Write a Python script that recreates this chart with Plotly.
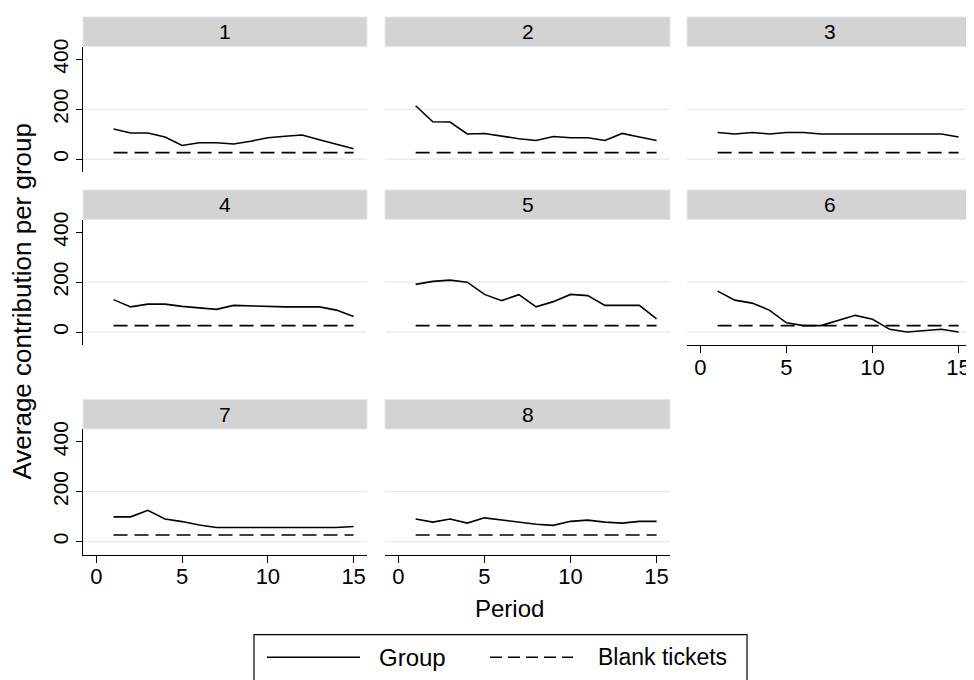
import plotly.graph_objects as go

# ---------------- data ----------------
periods = [1, 2, 3, 4, 5, 6, 7, 8, 9, 10, 11, 12, 13, 14, 15]
panel_labels = ["1", "2", "3", "4", "5", "6", "7", "8"]

group_1 = [121, 105, 105, 89, 55, 66, 66, 61, 72, 86, 92, 97, 78, 59, 42]
group_2 = [214, 150, 149, 101, 103, 92, 82, 75, 91, 86, 86, 75, 103, 89, 75]
group_3 = [107, 101, 107, 101, 107, 107, 101, 101, 101, 101, 101, 101, 101, 101, 89]
group_4 = [130, 101, 112, 112, 103, 97, 91, 107, 104, 103, 101, 101, 101, 88, 62]
group_5 = [191, 203, 208, 200, 151, 126, 150, 101, 122, 151, 146, 107, 107, 107, 53]
group_6 = [164, 128, 116, 88, 37, 26, 26, 47, 67, 51, 11, 0, 5, 11, 0]
group_7 = [99, 99, 125, 90, 80, 66, 56, 56, 56, 56, 56, 56, 56, 56, 60]
group_8 = [90, 78, 90, 74, 95, 86, 77, 69, 65, 81, 86, 78, 74, 81, 81]
groups = [group_1, group_2, group_3, group_4, group_5, group_6, group_7, group_8]

blank_tickets = [26, 26, 26, 26, 26, 26, 26, 26, 26, 26, 26, 26, 26, 26, 26]

x_ticks = [0, 5, 10, 15]
y_ticks = [0, 200, 400]
grid_values = [0, 200]

y_title = "Average contribution per group"
x_title = "Period"
legend_names = ["Group", "Blank tickets"]

# ---------------- layout geometry (page pixels) ----------------
PAGE_W, PAGE_H = 974, 680
OFF = 8  # default body margin of the html page
W, H = PAGE_W - OFF, PAGE_H - OFF
FONT = "Liberation Sans, Arial, sans-serif"


def fx(p):
    return (p - OFF) / W


def fy(p):
    return 1 - (p - OFF) / H


col_px = [(83, 367), (385, 670), (687, 972)]
row_plot_px = [(39, 166), (214, 341), (426, 553)]
row_strip_px = [(9, 39), (184, 214), (396, 426)]
x_axis_panels = {5, 6, 7}

fig = go.Figure()
layout = {}
shapes = []
annotations = []

for i, vals in enumerate(groups):
    r, c = divmod(i, 3)
    n = i + 1
    xa = "x" if n == 1 else f"x{n}"
    ya = "y" if n == 1 else f"y{n}"
    fig.add_trace(go.Scatter(x=periods, y=vals, mode="lines", xaxis=xa, yaxis=ya,
                             line=dict(color="black", width=1.6), showlegend=False,
                             name=legend_names[0]))
    fig.add_trace(go.Scatter(x=periods, y=blank_tickets, mode="lines", xaxis=xa, yaxis=ya,
                             line=dict(color="black", width=1.6, dash="14px,7px"),
                             showlegend=False, name=legend_names[1]))
    show_x = i in x_axis_panels
    show_y = c == 0
    x0, x1 = col_px[c]
    yt, yb = row_plot_px[r]
    layout["xaxis" if n == 1 else f"xaxis{n}"] = dict(
        domain=[fx(x0), fx(x1)], range=[-0.78, 15.78], anchor=ya,
        tickvals=x_ticks, showticklabels=show_x, ticks="outside" if show_x else "",
        ticklen=7, tickwidth=1, tickcolor="black", ticklabelstandoff=-5,
        showline=show_x, linecolor="black", linewidth=1.2,
        showgrid=False, zeroline=False,
        tickfont=dict(family=FONT, size=22, color="black"),
    )
    layout["yaxis" if n == 1 else f"yaxis{n}"] = dict(
        domain=[fy(yb), fy(yt)], range=[-52, 451], anchor=xa,
        tickvals=y_ticks, showticklabels=show_y, ticks="outside" if show_y else "",
        ticklen=6, tickwidth=1, tickcolor="black", tickangle=-90,
        showline=show_y, linecolor="black", linewidth=1.2,
        showgrid=False, zeroline=False,
        tickfont=dict(family=FONT, size=21, color="black"),
    )
    for g in grid_values:
        shapes.append(dict(type="line", xref=f"{xa} domain", x0=0, x1=1,
                           yref=ya, y0=g, y1=g, layer="below",
                           line=dict(color="#e8e8e8", width=1.2)))
    st, sb = row_strip_px[r]
    shapes.append(dict(type="rect", xref="paper", yref="paper",
                       x0=fx(x0), x1=fx(x1), y0=fy(sb), y1=fy(st),
                       fillcolor="#d3d3d3", line=dict(color="#e4eaf0", width=1)))
    annotations.append(dict(text=panel_labels[i], xref="paper", yref="paper",
                            x=fx((x0 + x1) / 2), y=fy((st + sb) / 2),
                            showarrow=False, xanchor="center", yanchor="middle",
                            font=dict(family=FONT, size=21, color="black")))

# axis titles
annotations.append(dict(text=y_title, xref="paper", yref="paper", x=fx(22), y=fy(297),
                        textangle=-90, showarrow=False, xanchor="center", yanchor="middle",
                        font=dict(family=FONT, size=26, color="black")))
annotations.append(dict(text=x_title, xref="paper", yref="paper", x=fx(509), y=fy(608),
                        showarrow=False, xanchor="center", yanchor="middle",
                        font=dict(family=FONT, size=24, color="black")))

# legend box (its bottom edge lies at the picture's lower border)
shapes.append(dict(type="rect", xref="paper", yref="paper", x0=fx(254), x1=fx(747),
                   y0=fy(682), y1=fy(634), line=dict(color="black", width=1.2),
                   fillcolor="white"))
shapes.append(dict(type="line", xref="paper", yref="paper", x0=fx(267), x1=fx(360),
                   y0=fy(657), y1=fy(657), line=dict(color="black", width=1.6)))
shapes.append(dict(type="line", xref="paper", yref="paper", x0=fx(490), x1=fx(573),
                   y0=fy(657), y1=fy(657), line=dict(color="black", width=1.6, dash="12px,6px")))
annotations.append(dict(text=legend_names[0], xref="paper", yref="paper", x=fx(377), y=fy(657),
                        showarrow=False, xanchor="left", yanchor="middle",
                        font=dict(family=FONT, size=24, color="black")))
annotations.append(dict(text=legend_names[1], xref="paper", yref="paper", x=fx(596), y=fy(657),
                        showarrow=False, xanchor="left", yanchor="middle",
                        font=dict(family=FONT, size=23, color="black")))

fig.update_layout(
    width=W, height=H, margin=dict(l=0, r=0, t=0, b=0),
    paper_bgcolor="white", plot_bgcolor="white",
    shapes=shapes, annotations=annotations, showlegend=False,
    **layout,
)

fig.write_html("out.html")
